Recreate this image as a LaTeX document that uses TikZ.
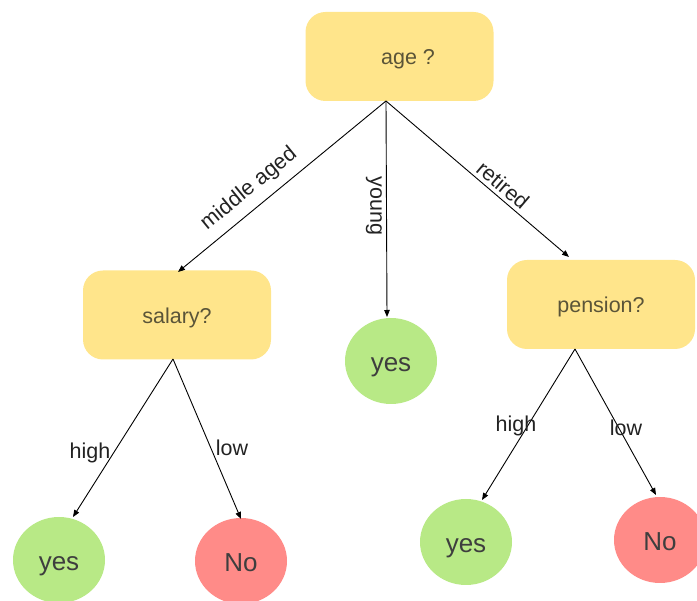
\documentclass[tikz,border=0pt]{standalone}
\usepackage{fontspec}
\setmainfont{Liberation Sans}
\usetikzlibrary{arrows.meta,shapes.geometric}
\definecolor{qfill}{HTML}{FFE58B}
\definecolor{qtext}{HTML}{5A5438}
\definecolor{yesfill}{HTML}{B8E986}
\definecolor{nofill}{HTML}{FF8B88}
\definecolor{leaftext}{HTML}{3E3E3E}
\definecolor{edgetext}{HTML}{222222}
\tikzset{
  qlabel/.style={text=qtext, inner sep=0pt, text height=17pt, text depth=0pt,
    font=\fontsize{21.5}{26}\selectfont},
  question/.style={rectangle, rounded corners=20pt, fill=qfill, qlabel,
    minimum width=188pt, minimum height=89pt},
  leaf/.style={ellipse, minimum width=92pt, minimum height=86pt, inner sep=0pt,
    text height=22pt, text depth=0pt,
    text=leaftext, font=\fontsize{26}{31}\selectfont},
  yesleaf/.style={leaf, fill=yesfill},
  noleaf/.style={leaf, fill=nofill},
  branch/.style={draw=black, line width=0.9pt, -{Triangle[length=7pt,width=5.5pt]}},
  cond/.style={text=edgetext, inner sep=0pt, font=\fontsize{21.5}{26}\selectfont}
}
\begin{document}
\begin{tikzpicture}[x=1pt,y=-1pt]
\useasboundingbox (0,0) rectangle (697,601);

% decision boxes
\node[question] (age) at (399.5,56.5) {};
\node[qlabel] (agetext) at (408,56.5) {age ?};
\node[question] (salary) at (177,315) {salary?};
\node[question] (pension) at (601,304.5) {pension?};

% outcomes
\node[yesleaf] (ymid) at (391,361) {yes};
\node[yesleaf] (yleft) at (59,560) {yes};
\node[noleaf] (nleft) at (241,561) {No};
\node[yesleaf] (yright) at (466,542) {yes};
\node[noleaf] (nright) at (660,540) {No};

% branch start and end points
\coordinate (agefoot) at (386,101);
\coordinate (salfoot) at (173,359);
\coordinate (penfoot) at (575,349);
\coordinate (tosal) at (178,272);
\coordinate (tomid) at (387,317);
\coordinate (topen) at (569,257);
\coordinate (toyl) at (73,517);
\coordinate (tonl) at (241,519);
\coordinate (toyr) at (482,500);
\coordinate (tonr) at (656,495);

\draw[branch] (agefoot) -- (tosal);
\draw[branch] (agefoot) -- (tomid);
\draw[branch] (agefoot) -- (topen);
\draw[branch] (salfoot) -- (toyl);
\draw[branch] (salfoot) -- (tonl);
\draw[branch] (penfoot) -- (toyr);
\draw[branch] (penfoot) -- (tonr);

% branch conditions
\node[cond, rotate=39.3] (lmiddle) at (249,189) {middle aged};
\node[cond, rotate=-90] (lyoung) at (374,206) {young};
\node[cond, rotate=-40.4] (lretired) at (503,185) {retired};
\node[cond] (lhighl) at (90,453) {high};
\node[cond] (llowl) at (232,448) {low};
\node[cond] (lhighr) at (516,426) {high};
\node[cond] (llowr) at (626,428) {low};
\end{tikzpicture}
\end{document}
